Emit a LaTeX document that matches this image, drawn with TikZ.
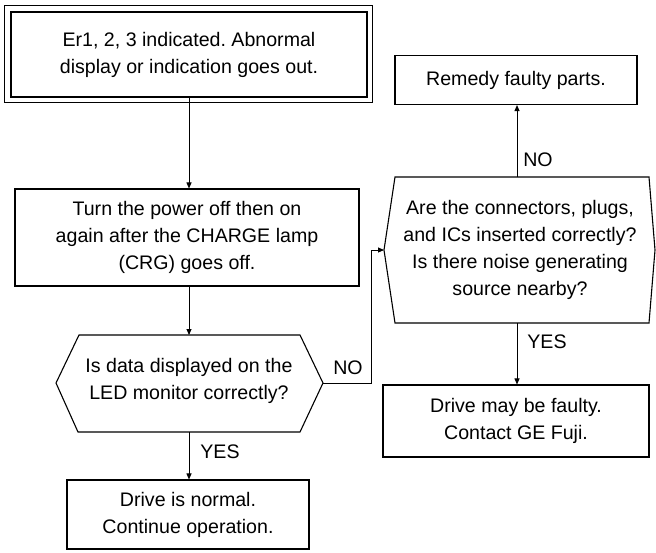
\documentclass[tikz,border=0pt]{standalone}
\usepackage{fontspec}
\setmainfont{Liberation Sans}
\usetikzlibrary{arrows.meta}
\begin{document}
\frenchspacing
\begin{tikzpicture}[x=1pt,y=-1pt,
  txt/.style={align=center,inner sep=0pt,font=\fontsize{19.6}{27}\selectfont},
  box/.style={txt,draw,line width=1.1pt,rectangle},
  lbl/.style={inner sep=0pt,font=\fontsize{19.6}{24}\selectfont},
  hexa/.style={draw,line width=1.1pt,line join=miter},
  conn/.style={line width=0.9pt,-{Triangle[length=6pt,width=5pt]}},
  plain/.style={line width=0.9pt}]
\useasboundingbox (0,0) rectangle (656,552);

% start box (double border)
\node[box,minimum width=356pt,minimum height=85pt] (start) at (189,54.5)
  {Er1, 2, 3 indicated. Abnormal\\display or indication goes out.};
\draw[line width=1.1pt] ([shift={(-6,-6)}]start.north west) rectangle ([shift={(5,5)}]start.south east);

% power box
\node[box,minimum width=344pt,minimum height=97pt] (power) at (187,237.5)
  {Turn the power off then on\\again after the CHARGE lamp\\(CRG) goes off.};

% decision 1
\node[txt] (d1) at (189,381) {Is data displayed on the\\LED monitor correctly?};
\coordinate (d1t) at (189,335);
\coordinate (d1b) at (189,432);
\coordinate (d1r) at (323,383);
\draw[hexa] (79,335) -- (300,335) -- (d1r) -- (300,432) -- (78,432) -- (56,383) -- cycle;

% normal box
\node[box,minimum width=242pt,minimum height=69pt] (normal) at (188,514.5)
  {Drive is normal.\\Continue operation.};

% decision 2
\node[txt] (d2) at (520,250) {Are the connectors, plugs,\\and ICs inserted correctly?\\Is there noise generating\\source nearby?};
\coordinate (d2t) at (517,177);
\coordinate (d2b) at (517,323);
\coordinate (d2l) at (384,250);
\draw[hexa] (395,177) -- (649,177) -- (655,250) -- (649,323) -- (395,323) -- (d2l) -- cycle;

% remedy box
\node[box,minimum width=242pt,minimum height=49pt] (remedy) at (516,80)
  {Remedy faulty parts.};

% faulty box
\node[box,minimum width=266pt,minimum height=72pt] (faulty) at (516,421)
  {Drive may be faulty.\\Contact GE Fuji.};

% connectors
\draw[conn] (start.south -| 189,0) -- (power.north -| 189,0);
\draw[conn] (power.south -| 189,0) -- (d1t);
\draw[conn] (d1b) -- (normal.north -| 189,0);
\coordinate (c1) at (371,383);
\coordinate (c2) at (371,250);
\draw[plain] (d1r) -- (c1) -- (c2);
\draw[conn] (c2) -- (d2l);
\draw[conn] (d2t) -- (remedy.south -| d2t);
\draw[conn] (d2b) -- (faulty.north -| d2b);

% labels
\node[lbl] (no1) at (348,368) {NO};
\node[lbl] (yes1) at (220,452) {YES};
\node[lbl] (no2) at (538,160) {NO};
\node[lbl] (yes2) at (547,342) {YES};
\end{tikzpicture}
\end{document}
